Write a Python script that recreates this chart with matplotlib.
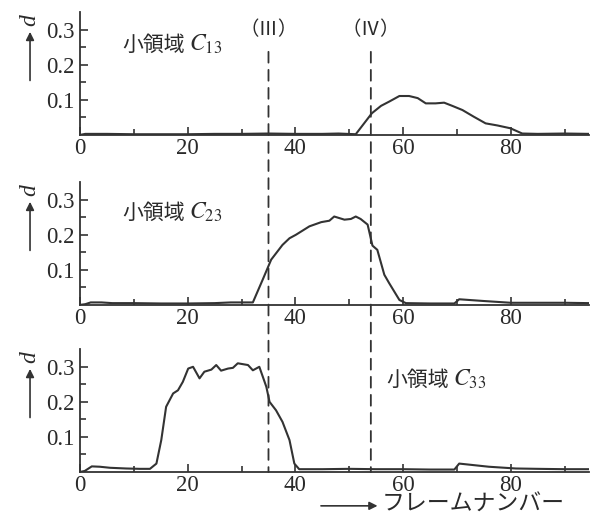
import matplotlib
matplotlib.use("Agg")
import matplotlib.pyplot as plt
from matplotlib.patches import ConnectionPatch

plt.rcParams['font.family'] = 'Liberation Serif'
plt.rcParams['mathtext.fontset'] = 'stix'
jp = 'Noto Sans CJK JP'

# C13
x13 = [0, 1, 5, 10, 15, 20, 25, 30, 35, 40, 45, 48, 51.2, 54.2, 55.9, 57.4, 59.3, 61.1,
       62.7, 64.2, 66.0, 67.6, 69.1, 71.0, 73.1, 75.3, 77.5, 79.9, 82.1, 85, 90, 94.5]
y13 = [0, 0.003, 0.003, 0.002, 0.002, 0.002, 0.003, 0.003, 0.004, 0.003, 0.003, 0.004,
       0.002, 0.062, 0.083, 0.095, 0.111, 0.111, 0.105, 0.090, 0.090, 0.092, 0.083, 0.071,
       0.052, 0.033, 0.027, 0.019, 0.004, 0.003, 0.004, 0.003]

# C23
x23 = [0, 1, 2, 4, 6, 10, 15, 20, 25, 28, 31, 32.1, 33.9, 35.5, 37.6, 38.9, 40.1, 42.6,
       44.8, 46.3, 47.2, 49.1, 50.3, 51.2, 52.1, 53.4, 54.3, 55.2, 56.5, 57.4, 59.3, 60.5,
       65, 69.5, 70.4, 75, 80, 85, 90, 94.5]
y23 = [0, 0.002, 0.007, 0.007, 0.005, 0.005, 0.004, 0.004, 0.005, 0.007, 0.007, 0.007,
       0.071, 0.129, 0.171, 0.190, 0.200, 0.224, 0.236, 0.240, 0.252, 0.243, 0.245, 0.252,
       0.245, 0.229, 0.169, 0.157, 0.086, 0.062, 0.014, 0.005, 0.004, 0.004, 0.016, 0.011,
       0.006, 0.006, 0.006, 0.005]

# C33
x33 = [0, 0.9, 2.2, 3.7, 5.6, 8.6, 11.1, 13.0, 14.2, 15.1, 16.0, 17.3, 18.2, 19.1, 20.1,
       21.0, 22.2, 23.1, 24.4, 25.3, 26.2, 27.5, 28.4, 29.3, 31.2, 32.1, 33.3, 34.6, 35.2,
       36.4, 37.6, 38.9, 39.8, 40.7, 45, 50, 55, 60, 65, 69.5, 70.4, 75.9, 80.9, 85, 90, 94.5]
y33 = [0, 0.003, 0.016, 0.015, 0.012, 0.010, 0.009, 0.009, 0.024, 0.091, 0.186, 0.224,
       0.233, 0.257, 0.295, 0.300, 0.267, 0.286, 0.292, 0.305, 0.289, 0.295, 0.297, 0.310,
       0.305, 0.290, 0.300, 0.243, 0.200, 0.176, 0.143, 0.091, 0.024, 0.008, 0.008, 0.009,
       0.008, 0.008, 0.007, 0.007, 0.024, 0.015, 0.010, 0.009, 0.008, 0.008]

series = [(x13, y13, '13'), (x23, y23, '23'), (x33, y33, '33')]
label_pos = [(7.8, 0.257), (7.8, 0.263), (56.9, 0.263)]
events = [(35, '（Ⅲ）'), (54, '（Ⅳ）')]
x_ticks = [0, 20, 40, 60, 80]
y_ticks = [0.1, 0.2, 0.3]

col = '#333333'
tcol = '#2a2a2a'
fig = plt.figure(figsize=(5.92, 5.15), dpi=100)
bottoms = [0.738, 0.408, 0.0835]
axes = []
for i, (xs, ys, sub) in enumerate(series):
    ax = fig.add_axes([0.135, bottoms[i], 0.86, 0.239])
    ax.plot(xs, ys, color=col, lw=1.5)
    ax.set_xlim(0, 94.5)
    ax.set_ylim(0, 0.351)
    for s in ['top', 'right']:
        ax.spines[s].set_visible(False)
    for s in ['left', 'bottom']:
        ax.spines[s].set_linewidth(1.3)
        ax.spines[s].set_color(col)
    ax.set_xticks(x_ticks)
    ax.set_xticks([10, 30, 50, 70, 90], minor=True)
    ax.set_yticks(y_ticks)
    ax.set_yticks([0.05, 0.15, 0.25], minor=True)
    ax.set_yticklabels(['0.1', '0.2', '0.3'])
    ax.tick_params(which='both', direction='in', color=col, width=1.2, labelsize=16.5,
                   labelcolor=tcol)
    ax.tick_params(which='major', length=6)
    ax.tick_params(which='minor', length=4)
    ax.tick_params(axis='y', pad=4)
    ax.tick_params(axis='x', pad=2)
    lx, ly = label_pos[i]
    t = ax.text(lx, ly, '小領域', fontsize=15, va='center', ha='left', color=tcol, family=jp)
    ax.annotate(r'$C_{' + sub + '}$', xy=(1, 0.5), xycoords=t, xytext=(3, 0),
                textcoords='offset points', fontsize=17, va='center', ha='left', color=tcol)
    ax.annotate('', xy=(-0.098, 0.86), xytext=(-0.098, 0.42), xycoords='axes fraction',
                arrowprops=dict(arrowstyle='-|>', color=col, lw=1.2, mutation_scale=12),
                annotation_clip=False)
    ax.text(-0.098, 0.93, 'd', transform=ax.transAxes, rotation=90, fontsize=17,
            style='italic', ha='center', va='center', color=tcol)
    axes.append(ax)

for xe, lab in events:
    axes[0].text(xe, 0.30, lab, ha='center', va='center', fontsize=14, color=tcol, family=jp)
    con = ConnectionPatch(xyA=(xe, 0.237), coordsA=axes[0].transData,
                          xyB=(xe, 0), coordsB=axes[2].transData,
                          color=col, lw=1.3, linestyle=(0, (6, 4)))
    fig.add_artist(con)

axes[2].annotate('', xy=(0.59, -0.275), xytext=(0.468, -0.275), xycoords='axes fraction',
                 arrowprops=dict(arrowstyle='-|>', color=col, lw=1.2, mutation_scale=12),
                 annotation_clip=False)
axes[2].text(0.593, -0.315, 'フレームナンバー', transform=axes[2].transAxes, fontsize=16.5,
             ha='left', va='baseline', color=tcol, family=jp)

fig.savefig('out.png', dpi=100)
